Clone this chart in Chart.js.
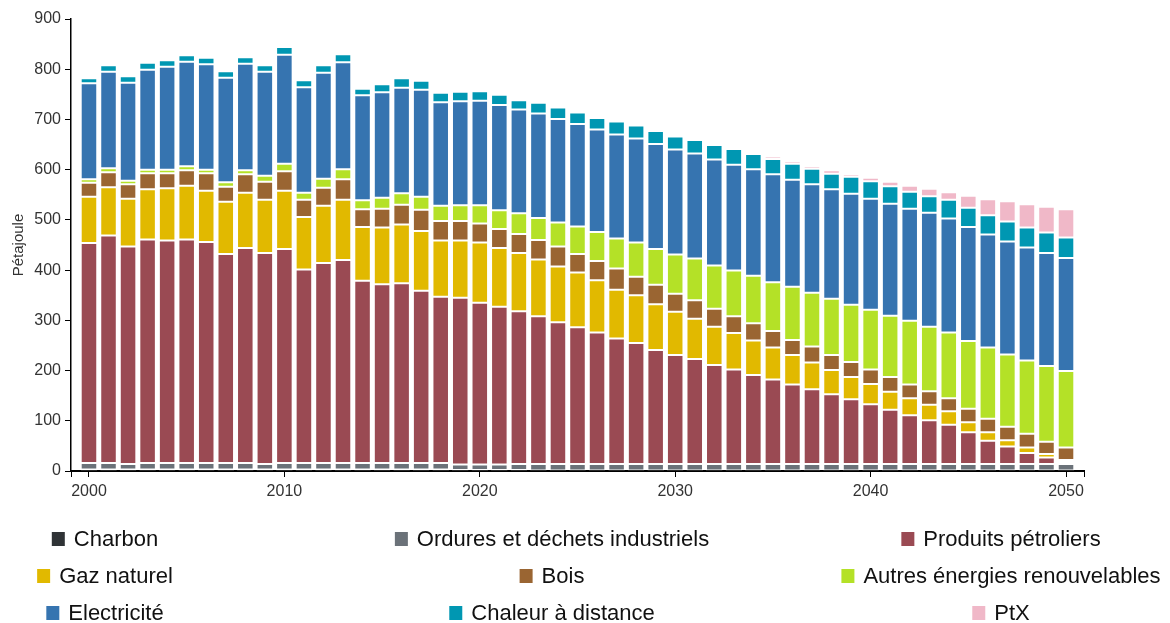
<!DOCTYPE html>
<html>
<head>
<meta charset="utf-8">
<script src="https://cdn.jsdelivr.net/npm/chart.js@4/dist/chart.umd.min.js"></script>
<style>
  html, body { margin: 0; padding: 0; background: #fff; }
  canvas { display: block; }
</style>
</head>
<body>
<canvas id="myChart" width="1170" height="623"></canvas>
<script>
// années (axe x)
const years = [2000,2001,2002,2003,2004,2005,2006,2007,2008,2009,
               2010,2011,2012,2013,2014,2015,2016,2017,2018,2019,
               2020,2021,2022,2023,2024,2025,2026,2027,2028,2029,
               2030,2031,2032,2033,2034,2035,2036,2037,2038,2039,
               2040,2041,2042,2043,2044,2045,2046,2047,2048,2049,2050];

// valeurs en pétajoule
const charbon = [3,3,3,3,3,3,3,3,3,3, 3,3,3,3,3,3,3,3,3,2,
                 2,2,2,1,1,1,1,1,1,1, 1,1,1,1,1,0,0,0,0,0,
                 0,0,0,0,0,0,0,0,0,0,0];
const ordures = [13,13,11,13,13,13,13,13,13,11, 13,13,13,13,13,13,13,13,13,11,
                 11,11,12,13,13,13,13,13,13,13, 13,13,13,13,13,14,14,14,14,14,
                 14,14,14,14,14,14,14,14,14,14,14];
const petrole = [438,453,433,445,443,445,440,416,428,420, 426,385,398,404,363,356,358,343,331,332,
                 322,314,304,294,282,272,262,250,241,227, 217,209,197,188,177,168,158,149,139,129,
                 119,108,97,87,78,63,46,35,22,13,4];
const gaz = [92,96,95,100,104,107,102,104,110,106, 116,105,114,120,107,113,117,119,112,114,
             120,117,116,113,111,109,104,97,95,91, 86,80,76,73,69,64,59,53,48,44,
             40,36,34,31,27,20,17,12,11,7,4];
const bois = [28,30,29,32,30,31,35,30,37,36, 39,34,36,41,35,37,39,42,39,39,
              38,38,38,39,40,37,38,42,37,39, 36,37,36,33,34,33,30,32,30,30,
              29,29,27,27,26,27,27,27,27,24,25];
const autres = [7,8,7,7,7,8,7,9,8,12, 15,14,18,20,18,22,23,26,30,31,
                36,37,41,44,48,55,58,60,68,71, 78,83,86,91,95,97,106,107,112,114,
                119,122,127,128,131,135,142,144,146,151,152];
const electricite = [191,192,195,199,205,208,210,208,212,207, 217,210,211,213,209,210,210,213,206,207,
                     208,210,207,208,206,204,204,207,207,209, 209,209,211,211,212,215,213,216,218,221,
                     221,223,223,227,227,227,225,225,225,225,225];
const chaleur = [10,13,13,14,13,13,13,13,13,13, 15,14,15,16,13,16,19,18,19,19,
                 19,20,18,21,23,23,23,26,26,26, 26,27,29,31,30,30,32,31,31,34,
                 35,35,34,33,37,38,38,40,40,41,41];
const ptx = [0,0,0,0,0,0,0,0,0,0, 0,0,0,0,0,0,0,0,0,0,
             0,0,0,0,0,0,0,0,0,0, 0,0,0.5,1,1.5,5,5,5,7,5,
             7,9,12,15,15,24,32,40,46,51,56];

// graduations
const xTicks = [2000, 2010, 2020, 2030, 2040, 2050];
const yTicks = [0, 100, 200, 300, 400, 500, 600, 700, 800, 900];

const series = [
  { label: 'Charbon', data: charbon, color: '#2f3336' },
  { label: 'Ordures et déchets industriels', data: ordures, color: '#6b7279' },
  { label: 'Produits pétroliers', data: petrole, color: '#9a4a53' },
  { label: 'Gaz naturel', data: gaz, color: '#e1b900' },
  { label: 'Bois', data: bois, color: '#9a6532' },
  { label: 'Autres énergies renouvelables', data: autres, color: '#b4e127' },
  { label: 'Electricité', data: electricite, color: '#3674b0' },
  { label: 'Chaleur à distance', data: chaleur, color: '#0097b2' },
  { label: 'PtX', data: ptx, color: '#f0b8c8' },
];

// position de la légende (3 colonnes x 3 lignes)
const legendCols = [105, 552, 1001];
const legendRows = [539, 576, 613];
const FONT = '"Liberation Sans", Arial, sans-serif';

// légende dessinée sur le canvas
const gridLegend = {
  id: 'gridLegend',
  afterDraw(chart) {
    const c = chart.ctx;
    c.save();
    c.font = '22px ' + FONT;
    c.textBaseline = 'middle';
    chart.data.datasets.forEach((ds, i) => {
      const cx = legendCols[i % 3];
      const cy = legendRows[Math.floor(i / 3)];
      const w = 13 + 9 + c.measureText(ds.label).width;
      const x0 = cx - w / 2;
      c.fillStyle = ds.backgroundColor;
      c.fillRect(x0, cy - 7, 13, 14);
      c.fillStyle = '#111';
      c.fillText(ds.label, x0 + 22, cy + 1);
    });
    c.restore();
  }
};

let ctx = document.getElementById('myChart');

let config = {
  type: 'bar',
  data: {
    datasets: series.map(s => ({
      label: s.label,
      data: s.data.map((v, i) => ({ x: years[i], y: v })),
      backgroundColor: s.color,
      borderColor: 'rgba(255,255,255,0.6)',
      borderWidth: 1,
      borderSkipped: false,
      barPercentage: 1,
      categoryPercentage: 0.92,
    }))
  },
  options: {
    responsive: false,
    animation: false,
    devicePixelRatio: 1,
    layout: { padding: { top: 19, right: 86, left: 0, bottom: 0 } },
    plugins: {
      legend: { display: false },
      tooltip: { enabled: false },
    },
    scales: {
      x: {
        type: 'linear',
        stacked: true,
        offset: false,
        min: 1999.08,
        max: 2050.92,
        afterBuildTicks: s => {
          s.ticks = [s.min].concat(xTicks).concat([s.max]).map(v => ({ value: v }));
        },
        afterFit: s => { s.height = 152; },
        ticks: {
          callback: v => (xTicks.includes(v) ? String(v) : ''),
          color: '#333',
          font: { size: 16, family: FONT },
          padding: 5,
          maxRotation: 0,
          autoSkip: false,
        },
        grid: { offset: false, drawOnChartArea: false, drawTicks: true, tickLength: 6, color: '#000' },
        border: { display: true, color: '#000', width: 2 },
      },
      y: {
        stacked: true,
        min: 0,
        max: 900,
        afterBuildTicks: s => { s.ticks = yTicks.map(v => ({ value: v })); },
        afterFit: s => { s.width = 71; },
        ticks: {
          color: '#333',
          font: { size: 16, family: FONT },
          padding: 4,
        },
        grid: { drawOnChartArea: false, drawTicks: true, tickLength: 6, color: '#000' },
        border: { display: true, color: '#000', width: 1.5 },
        title: {
          display: true,
          text: 'Pétajoule',
          color: '#333',
          font: { size: 15, family: FONT },
          padding: { top: 10, bottom: 4 },
        },
      },
    },
  },
  plugins: [gridLegend],
};

let myChart = new Chart(ctx, config);
</script>
</body>
</html>
